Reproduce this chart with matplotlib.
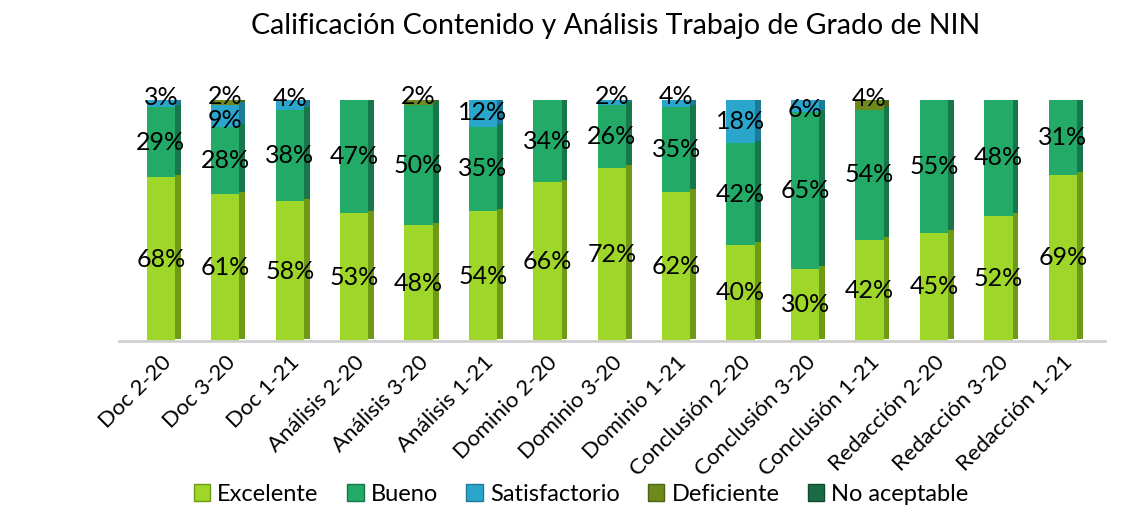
import numpy as np
import matplotlib.pyplot as plt
from matplotlib.patches import Patch

plt.rcParams['font.family'] = ['Lato', 'DejaVu Sans']

categories = ['Doc 2-20', 'Doc 3-20', 'Doc 1-21', 'Análisis 2-20', 'Análisis 3-20',
              'Análisis 1-21', 'Dominio 2-20', 'Dominio 3-20', 'Dominio 1-21',
              'Conclusión 2-20', 'Conclusión 3-20', 'Conclusión 1-21',
              'Redacción 2-20', 'Redacción 3-20', 'Redacción 1-21']
series_names = ['Excelente', 'Bueno', 'Satisfactorio', 'Deficiente', 'No aceptable']
excelente = [68, 61, 58, 53, 48, 54, 66, 72, 62, 40, 30, 42, 45, 52, 69]
bueno = [29, 28, 38, 47, 50, 35, 34, 26, 35, 42, 65, 54, 55, 48, 31]
satisfactorio = [3, 9, 4, 0, 0, 12, 0, 2, 4, 18, 6, 0, 0, 0, 0]
deficiente = [0, 2, 0, 0, 2, 0, 0, 0, 0, 0, 0, 4, 0, 0, 0]
no_aceptable = [0, 0, 0, 0, 0, 0, 0, 0, 0, 0, 0, 0, 0, 0, 0]

colors = ['#9fd62a', '#22aa66', '#2aa6cc', '#6f8a1c', '#1a6b44']
side_colors = ['#6f9a16', '#17774a', '#1d7a98', '#4d6212', '#114a2f']

data = [excelente, bueno, satisfactorio, deficiente, no_aceptable]

fig = plt.figure(figsize=(11.33, 5.13), dpi=100)
ax = fig.add_axes([0.105, 0.335, 0.87, 0.47])

x = np.arange(len(categories))
w = 0.44
depth = 0.09
bottom = np.zeros(len(categories))
for vals, c, sc in zip(data, colors, side_colors):
    vals = np.array(vals, dtype=float)
    ax.bar(x, vals, w, bottom=bottom, color=c, edgecolor='none', zorder=2)
    # side face for a bit of depth
    ax.bar(x + w / 2 + depth / 2, vals, depth, bottom=bottom + 1.0,
           color=sc, edgecolor='none', zorder=1)
    bottom += vals

# top faces
ax.bar(x + depth / 2, 2.0, w, bottom=bottom - 0.5, color='#1b7e4f',
       edgecolor='none', zorder=1)

# labels
bottom = np.zeros(len(categories))
for vals in data:
    vals = np.array(vals, dtype=float)
    for i, v in enumerate(vals):
        if v > 0:
            y = bottom[i] + v / 2
            if v < 5:
                y = bottom[i] + v / 2 + 2.5
            elif v < 10:
                y = bottom[i] + v / 2 - 2
            ax.text(x[i], y, f'{int(v)}%', ha='center', va='center',
                    fontsize=18, color='black', zorder=5)
    bottom += vals

ax.set_xlim(-0.65, len(categories) - 0.35)
ax.set_ylim(0, 100)
ax.set_yticks([])
for s in ['top', 'right', 'left']:
    ax.spines[s].set_visible(False)
ax.spines['bottom'].set_color('#d0d0d0')
ax.spines['bottom'].set_linewidth(2)
ax.set_xticks(x)
ax.set_xticklabels(categories, rotation=45, ha='right', rotation_mode='anchor',
                   fontsize=16)
ax.tick_params(axis='x', length=0, pad=8)

fig.suptitle('Calificación Contenido y Análisis Trabajo de Grado de NIN',
             fontsize=20.5, x=0.543, y=0.975)

handles = [Patch(facecolor=c, edgecolor=sc) for c, sc in zip(colors, side_colors)]
fig.legend(handles, series_names, loc='lower center', ncol=5, frameon=False,
           fontsize=17, handlelength=0.7, handleheight=0.7, handletextpad=0.3,
           columnspacing=1.2, bbox_to_anchor=(0.513, -0.025))

fig.savefig('out.png', dpi=100)
